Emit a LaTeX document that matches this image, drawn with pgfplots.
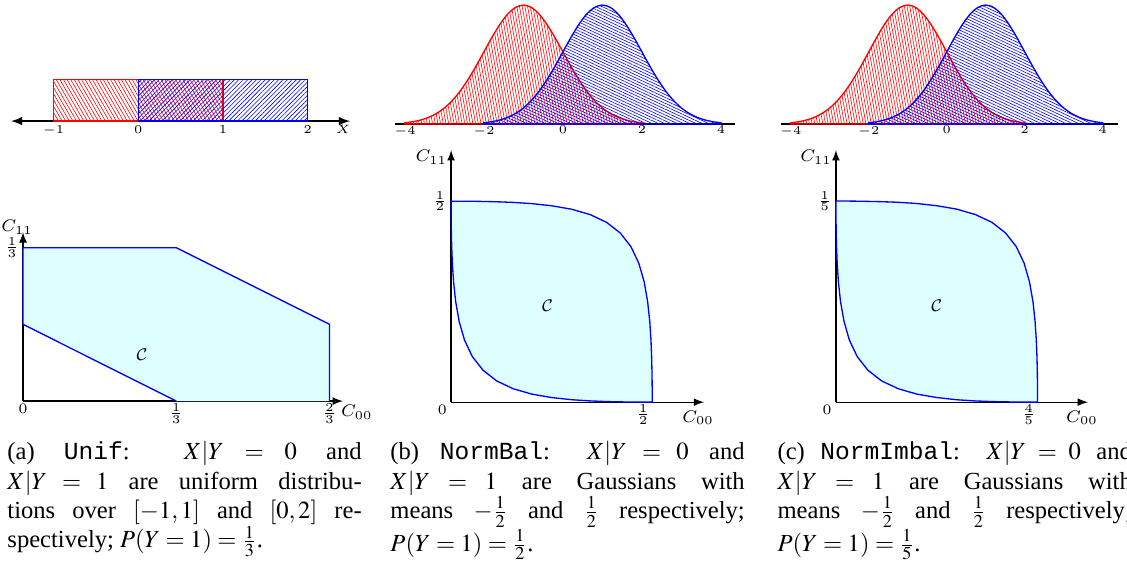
\documentclass[border=0pt]{standalone}
\usepackage{mathptmx}
\usepackage{fontspec}
\setmainfont{Liberation Serif}
\setmonofont{Liberation Mono}
\usepackage{pgfplots}
\pgfplotsset{compat=1.18}
\usepackage{pgfplotstable}
\usetikzlibrary{patterns.meta}

% Computer Modern math for the plots, Times math for the captions
\DeclareMathVersion{cm}
\SetSymbolFont{operators}{cm}{OT1}{cmr}{m}{n}
\SetSymbolFont{letters}{cm}{OML}{cmm}{m}{it}
\SetSymbolFont{symbols}{cm}{OMS}{cmsy}{m}{n}
\SetSymbolFont{largesymbols}{cm}{OMX}{cmex}{m}{n}

\definecolor{cfill}{RGB}{221,255,255}

% densities of N(-1,1) and N(1,1)
\pgfplotstableread{
x y
-4.0 0.0044
-3.8 0.0079
-3.6 0.0136
-3.4 0.0224
-3.2 0.0355
-3.0 0.0540
-2.8 0.0790
-2.6 0.1109
-2.4 0.1497
-2.2 0.1942
-2.0 0.2420
-1.8 0.2897
-1.6 0.3332
-1.4 0.3683
-1.2 0.3910
-1.0 0.3989
-0.8 0.3910
-0.6 0.3683
-0.4 0.3332
-0.2 0.2897
0.0 0.2420
0.2 0.1942
0.4 0.1497
0.6 0.1109
0.8 0.0790
1.0 0.0540
1.2 0.0355
1.4 0.0224
1.6 0.0136
1.8 0.0079
2.0 0.0044
}\gaussred

\pgfplotstableread{
x y
-2.0 0.0044
-1.8 0.0079
-1.6 0.0136
-1.4 0.0224
-1.2 0.0355
-1.0 0.0540
-0.8 0.0790
-0.6 0.1109
-0.4 0.1497
-0.2 0.1942
0.0 0.2420
0.2 0.2897
0.4 0.3332
0.6 0.3683
0.8 0.3910
1.0 0.3989
1.2 0.3910
1.4 0.3683
1.6 0.3332
1.8 0.2897
2.0 0.2420
2.2 0.1942
2.4 0.1497
2.6 0.1109
2.8 0.0790
3.0 0.0540
3.2 0.0355
3.4 0.0224
3.6 0.0136
3.8 0.0079
4.0 0.0044
}\gaussblue

% achievable region, P(Y=1)=1/2
\pgfplotstableread{
x y
0 0.5
0.0007 0.5
0.0031 0.5
0.0114 0.5
0.0334 0.4999
0.0528 0.4997
0.0794 0.4993
0.1133 0.4985
0.1543 0.4969
0.2007 0.4939
0.25 0.4886
0.2994 0.4800
0.3458 0.4666
0.3867 0.4472
0.4207 0.4207
0.4472 0.3867
0.4666 0.3458
0.4800 0.2994
0.4886 0.25
0.4939 0.2007
0.4969 0.1543
0.4985 0.1133
0.4993 0.0794
0.4997 0.0528
0.4999 0.0334
0.5 0.0114
0.5 0.0031
0.5 0.0007
0.5 0
0.4993 0
0.4886 0
0.4666 0.0001
0.4207 0.0007
0.3867 0.0015
0.3458 0.0031
0.2994 0.0061
0.25 0.0114
0.2007 0.0200
0.1543 0.0334
0.1133 0.0528
0.0794 0.0794
0.0528 0.1133
0.0334 0.1543
0.0200 0.2007
0.0114 0.25
0.0061 0.2994
0.0031 0.3458
0.0015 0.3867
0.0007 0.4207
0.0001 0.4666
0 0.4886
0 0.4993
0 0.5
}\regionbal

% achievable region, P(Y=1)=1/5
\pgfplotstableread{
x y
0 0.2
0.0010 0.2
0.0050 0.2
0.0182 0.2
0.0534 0.2
0.0845 0.1999
0.1270 0.1997
0.1813 0.1994
0.2468 0.1988
0.3210 0.1976
0.4 0.1954
0.4790 0.1920
0.5532 0.1866
0.6187 0.1789
0.6730 0.1683
0.7155 0.1547
0.7466 0.1383
0.7679 0.1197
0.7818 0.1
0.7902 0.0803
0.7950 0.0617
0.7976 0.0453
0.7990 0.0317
0.7995 0.0211
0.7998 0.0134
0.8 0.0046
0.8 0.0012
0.8 0.0003
0.8 0
0.7990 0
0.7818 0
0.7466 0
0.6730 0.0003
0.6187 0.0006
0.5532 0.0012
0.4790 0.0024
0.4 0.0046
0.3210 0.0080
0.2468 0.0134
0.1813 0.0211
0.1270 0.0317
0.0845 0.0453
0.0534 0.0617
0.0321 0.0803
0.0182 0.1
0.0098 0.1197
0.0050 0.1383
0.0024 0.1547
0.0010 0.1683
0.0002 0.1866
0 0.1954
0 0.1997
0 0.2
}\regionimbal

\pgfplotsset{
  dens/.style={scale only axis, anchor=south west, axis x line=middle,
    axis y line=none, ymin=0, clip=false, major tick length=0pt,
    x axis line style={line width=0.7pt, -},
    xticklabel style={font=\fontsize{3.2}{4}\selectfont, inner sep=0.6pt}},
  reg/.style={scale only axis, anchor=south west, axis lines=left,
    axis line style={line width=0.5pt, -latex}, clip=false,
    xmin=0, ymin=0, major tick length=0pt,
    ticklabel style={font=\fontsize{6.2}{7}\selectfont},
    xticklabel style={inner sep=1pt}, yticklabel style={inner sep=1.5pt}},
  regbc/.style={reg,
    xticklabel style={xshift=-3.7pt},
    every axis x label/.style={at={(axis description cs:1,0)}, anchor=north,
      font=\fontsize{7}{7}\selectfont, inner sep=1pt, xshift=-2.5pt, yshift=-2.3pt},
    every axis y label/.style={at={(axis description cs:0,1)}, anchor=east,
      font=\fontsize{7}{7}\selectfont, inner sep=1pt, xshift=-0.5pt, yshift=-2.9pt}},
}

\begin{document}
\begin{tikzpicture}
\mathversion{cm}
\useasboundingbox (0,0) rectangle (467.7pt,237pt);
\clip (0,0) rectangle (467.7pt,237pt);

% (a) top: uniform densities
\begin{axis}[dens, at={(4.57pt,186.75pt)}, width=140.7pt, height=17.4pt,
  xmin=-1.5, xmax=2.5, ymax=0.5, xtick={-1,0,1,2},
  x axis line style={line width=0.6pt, latex-latex},
  xticklabel style={font=\fontsize{3.9}{4}\selectfont, inner sep=1.6pt}]
\addplot[draw=red, line width=0.5pt, pattern={Lines[angle=-60,distance=1.3pt,line width=0.25pt]}, pattern color=red]
  coordinates {(-1,0) (-1,0.5) (1,0.5) (1,0)} \closedcycle;
\addplot[draw=blue, line width=0.5pt, pattern={Lines[angle=45,distance=1.3pt,line width=0.25pt]}, pattern color=blue]
  coordinates {(0,0) (0,0.5) (2,0.5) (2,0)} \closedcycle;
\node[font=\fontsize{3.9}{4}\selectfont, anchor=north, inner sep=1.6pt] at (axis cs:2.42,0) {$X$};
\end{axis}

% (b) top
\begin{axis}[dens, at={(163.93pt,185.5pt)}, width=141pt, height=49.4pt,
  xmin=-4.25, xmax=4.35, ymax=0.3989, xtick={-4,-2,0,2,4}]
\addplot[draw=red, line width=0.55pt, smooth, pattern={Lines[angle=100,distance=1.1pt,line width=0.25pt]}, pattern color=red]
  table {\gaussred} \closedcycle;
\addplot[draw=blue, line width=0.55pt, smooth, pattern={Lines[angle=-25,distance=1.1pt,line width=0.25pt]}, pattern color=blue]
  table {\gaussblue} \closedcycle;
\end{axis}

% (c) top
\begin{axis}[dens, at={(324.1pt,185.5pt)}, width=140pt, height=49.4pt,
  xmin=-4.25, xmax=4.4, ymax=0.3989, xtick={-4,-2,0,2,4}]
\addplot[draw=red, line width=0.55pt, smooth, pattern={Lines[angle=100,distance=1.1pt,line width=0.25pt]}, pattern color=red]
  table {\gaussred} \closedcycle;
\addplot[draw=blue, line width=0.55pt, smooth, pattern={Lines[angle=-25,distance=1.1pt,line width=0.25pt]}, pattern color=blue]
  table {\gaussblue} \closedcycle;
\end{axis}

% (a) bottom
\begin{axis}[reg, at={(9.55pt,70.55pt)}, width=132.8pt, height=70.1pt,
  xmax=0.696, ymax=0.367,
  xtick={0,0.3333,0.6667}, xticklabels={$0$,$\frac{1}{3}$,$\frac{2}{3}$},
  ytick={0.3333}, yticklabels={$\frac{1}{3}$},
  xlabel={$C_{00}$}, ylabel={$C_{11}$},
  every axis x label/.style={at={(axis description cs:1,0)}, anchor=north west,
    font=\fontsize{7}{7}\selectfont, inner sep=1pt, xshift=-2pt, yshift=-0.5pt},
  every axis y label/.style={at={(axis description cs:0,1)}, anchor=center,
    font=\fontsize{7}{7}\selectfont, inner sep=1pt, xshift=-2.5pt, yshift=2pt}]
\addplot[draw=none, fill=cfill] coordinates {(0,0.1667) (0,0.3333) (0.3333,0.3333) (0.6667,0.1667) (0.6667,0) (0.3333,0)} -- cycle;
\addplot[draw=blue, line width=0.55pt] coordinates {(0.3333,0) (0,0.1667) (0,0.3333) (0.3333,0.3333) (0.6667,0.1667) (0.6667,0)};
\node[font=\fontsize{7.5}{8}\selectfont] at (axis cs:0.259,0.1) {$\mathcal{C}$};
\end{axis}

% (b) bottom
\begin{axis}[regbc, at={(187.2pt,70.1pt)}, width=105pt, height=104.6pt,
  xmax=0.629, ymax=0.627,
  xtick={0,0.5}, xticklabels={$0$,$\frac{1}{2}$},
  ytick={0.5}, yticklabels={$\frac{1}{2}$},
  xlabel={$C_{00}$}, ylabel={$C_{11}$}]
\addplot[draw=blue, line width=0.55pt, fill=cfill] table {\regionbal} -- cycle;
\node[font=\fontsize{7.5}{8}\selectfont] at (axis cs:0.24,0.24) {$\mathcal{C}$};
\end{axis}

% (c) bottom
\begin{axis}[regbc, at={(346.9pt,70.1pt)}, width=104.6pt, height=104.6pt,
  xmax=1.0, ymax=0.2507,
  xtick={0,0.8}, xticklabels={$0$,$\frac{4}{5}$},
  ytick={0.2}, yticklabels={$\frac{1}{5}$},
  xlabel={$C_{00}$}, ylabel={$C_{11}$}]
\addplot[draw=blue, line width=0.55pt, fill=cfill] table {\regionimbal} -- cycle;
\node[font=\fontsize{7.5}{8}\selectfont] at (axis cs:0.40,0.096) {$\mathcal{C}$};
\end{axis}

% captions
\begin{scope}[every node/.style={anchor=north west, inner sep=0pt, text width=147pt,
    align=justify, font=\mathversion{normal}\fontsize{10.2}{12.2}\selectfont}]
\node at (2.9pt,53.95pt) {(a) \texttt{Unif}: $X|Y = 0$ and\linebreak
  $X|Y = 1$ are uniform distribu-\linebreak
  tions over $[-1,1]$ and $[0,2]$ re-\linebreak
  spectively; $P(Y=1)=\frac{1}{3}$.};
\node at (161.85pt,53.95pt) {(b) \texttt{NormBal}: $X|Y = 0$ and\linebreak
  $X|Y = 1$ are Gaussians with\linebreak
  means $-\frac{1}{2}$ and $\frac{1}{2}$ respectively;\linebreak
  $P(Y=1)=\frac{1}{2}$.};
\node at (322.5pt,53.95pt) {(c) \texttt{NormImbal}: $X|Y = 0$ and\linebreak
  $X|Y = 1$ are Gaussians with\linebreak
  means $-\frac{1}{2}$ and $\frac{1}{2}$ respectively;\linebreak
  $P(Y=1)=\frac{1}{5}$.};
\end{scope}
\end{tikzpicture}
\end{document}
